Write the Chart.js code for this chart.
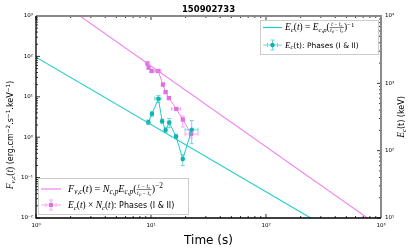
<!DOCTYPE html>
<html><head><meta charset="utf-8">
<script src="https://cdn.jsdelivr.net/npm/chart.js@4.4.1/dist/chart.umd.min.js"></script>
<style>html,body{margin:0;padding:0;background:#fff;overflow:hidden}</style>
</head><body>
<canvas id="c" width="415" height="249"></canvas>
<script>
// ---------- data ----------
const chartTitle = "150902733";
const xTicks = [1, 10, 100, 1000];
const xTickLabels = ["10⁰", "10¹", "10²", "10³"];
const leftTicks = [0.01, 0.1, 1, 10, 100, 1000];
const leftTickLabels = ["10⁻²", "10⁻¹", "10⁰", "10¹", "10²", "10³"];
const rightTicks = [10, 100, 1000, 10000];
const rightTickLabels = ["10¹", "10²", "10³", "10⁴"];

// E_c(t) phases (I & II), right axis (keV)
const ecTime   = [9.48, 10.2, 11.6, 12.5, 13.4, 14.4, 16.5, 18.9, 22.6];
const ecTimeLo = [9.3, 10.0, 10.8, 12.3, 13.2, 14.1, 16.1, 18.6, 19.8];
const ecTimeHi = [9.7, 10.4, 12.2, 12.7, 13.6, 14.7, 16.9, 19.2, 25.6];
const ecVal    = [264, 353, 591, 274, 202, 262, 162, 75, 204];
const ecLo     = [245, 325, 520, 255, 185, 220, 150, 60, 127];
const ecHi     = [285, 380, 660, 295, 220, 300, 175, 87, 281];

// E_c(t) x N_c(t) phases (I & II), left axis
const fnTime   = [9.29, 9.53, 10.1, 11.55, 12.7, 13.4, 14.3, 16.6, 18.9, 22.3];
const fnTimeLo = [9.1, 9.35, 9.9, 10.8, 12.5, 13.2, 14.1, 15.1, 18.6, 19.8];
const fnTimeHi = [9.5, 9.7, 10.3, 12.2, 12.9, 13.6, 14.5, 18.1, 19.2, 25.6];
const fnVal    = [66.7, 53, 43.5, 43.5, 20.1, 13.1, 9.3, 5.0, 2.74, 1.2];
const fnLo     = [62, 49, 40, 40, 18.5, 12, 8.5, 4.6, 1.79, 0.95];
const fnHi     = [72, 57, 47, 47, 21.8, 14.2, 10.1, 5.4, 3.35, 1.5];

// model lines (end points)
const modelTime = [1, 1000];
const ecModel   = [2450, 2.45];
const fnModel   = [5810, 0.00581];

// ---------- styles ----------
const CY_LINE = '#1fcccc', CY_MARK = '#12b3ae', CY_ERR = '#6fd8d6';
const MG_LINE = '#ee82ee', MG_MARK = '#e070e0', MG_ERR = '#f2a6f2';

const pts = (xs, ys) => xs.map((x, i) => ({x, y: ys[i]}));

// ---------- rich text ----------
const SERIF = '"Liberation Serif"', SANS = '"DejaVu Sans"';
function drawRich(ctx, parts, x, y, size, align) {
  const items = parts.map(p => {
    if (p.frac) {
      const fs = size * 0.68;
      const font = `italic ${fs}px ${SERIF}`;
      ctx.font = font;
      const w = Math.max(ctx.measureText(p.frac[0]).width, ctx.measureText(p.frac[1]).width) + 1;
      return {p, w, fs, font};
    }
    let fs = (p.sub || p.sup) ? size * 0.72 : size;
    if (p.serif) fs *= 1.18;
    const font = `${p.it ? 'italic ' : ''}${fs}px ${p.serif ? SERIF : SANS}`;
    ctx.font = font;
    return {p, w: ctx.measureText(p.t).width, fs, font};
  });
  const total = items.reduce((a, b) => a + b.w, 0);
  let cx = align === 'center' ? x - total / 2 : x;
  ctx.textBaseline = 'alphabetic';
  for (const it of items) {
    const p = it.p;
    ctx.font = it.font;
    if (p.frac) {
      ctx.textAlign = 'center';
      ctx.fillText(p.frac[0], cx + it.w / 2, y - size * 0.45);
      ctx.fillText(p.frac[1], cx + it.w / 2, y + size * 0.3);
      ctx.fillRect(cx, y - size * 0.33, it.w, 0.5);
      ctx.textAlign = 'left';
    } else {
      ctx.textAlign = 'left';
      const dy = p.sub ? size * 0.25 : p.sup ? -size * 0.42 : 0;
      ctx.fillText(p.t, cx, y + dy);
    }
    cx += it.w;
  }
  return total;
}
const M = (t, o = {}) => Object.assign({t, serif: true, it: true}, o);
const R = (t, o = {}) => Object.assign({t, serif: true, it: false}, o);
const S = (t, o = {}) => Object.assign({t, serif: false, it: false}, o);

const leftLabel = [M('F'), M('ν,c', {sub: true}), R('('), M('t'), R(')'), S(' (erg.cm'), S('−2', {sup: true}), S('.s'), S('−1', {sup: true}), S('.keV'), S('−1', {sup: true}), S(')')];
const rightLabel = [M('E'), M('c', {sub: true}), S('(t) (keV)')];
const legTop1 = [M('E'), M('c', {sub: true}), R('('), M('t'), R(')'), R(' = '), M('E'), M('c,p', {sub: true}), R('('), {frac: ['t − t₀', 'tₚ − t₀']}, R(')'), R('−1', {sup: true})];
const legTop2 = [M('E'), M('c', {sub: true}), S('(t): Phases (I & II)')];
const legBot1 = [M('F'), M('ν,c', {sub: true}), R('('), M('t'), R(')'), R(' = '), M('N'), M('c,p', {sub: true}), M('E'), M('c,p', {sub: true}), R('('), {frac: ['t − t₀', 'tₚ − t₀']}, R(')'), R('−2', {sup: true})];
const legBot2 = [M('E'), M('c', {sub: true}), R('('), M('t'), R(')'), R(' × '), M('N'), M('c', {sub: true}), R('('), M('t'), R(')'), S(': Phases (I & II)')];

// ---------- plugins ----------
const errorBars = {
  id: 'errorBars',
  beforeDatasetsDraw(chart) {
    const ctx = chart.ctx, a = chart.chartArea, xs = chart.scales.x;
    ctx.save();
    ctx.beginPath(); ctx.rect(a.left, a.top, a.right - a.left, a.bottom - a.top); ctx.clip();
    const sets = [
      {t: ecTime, tl: ecTimeLo, th: ecTimeHi, v: ecVal, lo: ecLo, hi: ecHi, ax: 'yR', c: CY_ERR},
      {t: fnTime, tl: fnTimeLo, th: fnTimeHi, v: fnVal, lo: fnLo, hi: fnHi, ax: 'yL', c: MG_ERR}
    ];
    for (const s of sets) {
      const ys = chart.scales[s.ax];
      ctx.strokeStyle = s.c; ctx.lineWidth = 1;
      for (let i = 0; i < s.t.length; i++) {
        const px = xs.getPixelForValue(s.t[i]), py = ys.getPixelForValue(s.v[i]);
        const x0 = xs.getPixelForValue(s.tl[i]), x1 = xs.getPixelForValue(s.th[i]);
        const y0 = ys.getPixelForValue(s.lo[i]), y1 = ys.getPixelForValue(s.hi[i]);
        ctx.beginPath();
        ctx.moveTo(x0, py); ctx.lineTo(x1, py);
        ctx.moveTo(px, y0); ctx.lineTo(px, y1);
        ctx.moveTo(x0, py - 2); ctx.lineTo(x0, py + 2);
        ctx.moveTo(x1, py - 2); ctx.lineTo(x1, py + 2);
        ctx.moveTo(px - 2, y0); ctx.lineTo(px + 2, y0);
        ctx.moveTo(px - 2, y1); ctx.lineTo(px + 2, y1);
        ctx.stroke();
      }
    }
    ctx.restore();
  }
};

function decadeMinors(min, max) {
  const out = [];
  for (let d = Math.floor(Math.log10(min)); d < Math.ceil(Math.log10(max)); d++) {
    for (let k = 2; k <= 9; k++) { const v = k * Math.pow(10, d); if (v > min && v < max) out.push(v); }
  }
  return out;
}

const frame = {
  id: 'frame',
  afterDraw(chart) {
    const ctx = chart.ctx, a = chart.chartArea;
    const xs = chart.scales.x, yl = chart.scales.yL, yr = chart.scales.yR;
    ctx.save();
    // ticks (inward)
    ctx.strokeStyle = '#000'; ctx.lineWidth = 0.8;
    ctx.beginPath();
    xTicks.forEach(v => { const p = xs.getPixelForValue(v); ctx.moveTo(p, a.bottom); ctx.lineTo(p, a.bottom - 4); ctx.moveTo(p, a.top); ctx.lineTo(p, a.top + 4); });
    decadeMinors(1, 1000).forEach(v => { const p = xs.getPixelForValue(v); ctx.moveTo(p, a.bottom); ctx.lineTo(p, a.bottom - 2); ctx.moveTo(p, a.top); ctx.lineTo(p, a.top + 2); });
    leftTicks.forEach(v => { const p = yl.getPixelForValue(v); ctx.moveTo(a.left, p); ctx.lineTo(a.left + 4, p); });
    decadeMinors(0.01, 1000).forEach(v => { const p = yl.getPixelForValue(v); ctx.moveTo(a.left, p); ctx.lineTo(a.left + 2, p); });
    rightTicks.forEach(v => { const p = yr.getPixelForValue(v); ctx.moveTo(a.right, p); ctx.lineTo(a.right - 4, p); });
    decadeMinors(10, 10000).forEach(v => { const p = yr.getPixelForValue(v); ctx.moveTo(a.right, p); ctx.lineTo(a.right - 2, p); });
    ctx.stroke();
    // spines
    ctx.strokeStyle = '#8a8a8a'; ctx.lineWidth = 2;
    ctx.beginPath(); ctx.moveTo(a.left, a.top); ctx.lineTo(a.right, a.top); ctx.lineTo(a.right, a.bottom); ctx.stroke();
    ctx.strokeStyle = '#000'; ctx.lineWidth = 1.3;
    ctx.beginPath(); ctx.moveTo(a.left, a.top); ctx.lineTo(a.left, a.bottom); ctx.lineTo(a.right, a.bottom); ctx.stroke();

    // title
    ctx.fillStyle = '#000';
    ctx.font = `bold 8.5px ${SANS}`; ctx.textAlign = 'center'; ctx.textBaseline = 'middle';
    ctx.fillText(chartTitle, (a.left + a.right) / 2, 9.5);
    // x label
    ctx.font = `12px ${SANS}`;
    ctx.fillText('Time (s)', (a.left + a.right) / 2, 241);
    // y labels
    ctx.save(); ctx.translate(10, 135); ctx.rotate(-Math.PI / 2);
    drawRich(ctx, leftLabel, 0, 3, 8, 'center'); ctx.restore();
    ctx.save(); ctx.translate(401, 117); ctx.rotate(-Math.PI / 2);
    drawRich(ctx, rightLabel, 0, 3, 8, 'center'); ctx.restore();

    // legends
    function box(x0, y0, x1, y1) {
      ctx.fillStyle = 'rgba(255,255,255,0.85)';
      ctx.fillRect(x0, y0, x1 - x0, y1 - y0);
      ctx.strokeStyle = '#cccccc'; ctx.lineWidth = 1;
      ctx.strokeRect(x0 + 0.5, y0 + 0.5, x1 - x0 - 1, y1 - y0 - 1);
    }
    function lineSample(x0, x1, y, c) {
      ctx.strokeStyle = c; ctx.lineWidth = 1.2;
      ctx.beginPath(); ctx.moveTo(x0, y); ctx.lineTo(x1, y); ctx.stroke();
    }
    function errSample(x0, x1, y, c, cm, rect) {
      const xc = (x0 + x1) / 2;
      ctx.strokeStyle = c; ctx.lineWidth = 1;
      ctx.beginPath();
      ctx.moveTo(x0, y); ctx.lineTo(x1, y);
      ctx.moveTo(xc - 5, y - 2); ctx.lineTo(xc - 5, y + 2);
      ctx.moveTo(xc + 5, y - 2); ctx.lineTo(xc + 5, y + 2);
      ctx.moveTo(xc, y - 5); ctx.lineTo(xc, y + 5);
      ctx.moveTo(xc - 2, y - 5); ctx.lineTo(xc + 2, y - 5);
      ctx.moveTo(xc - 2, y + 5); ctx.lineTo(xc + 2, y + 5);
      ctx.stroke();
      ctx.fillStyle = cm;
      if (rect) ctx.fillRect(xc - 2, y - 2, 4, 4);
      else { ctx.beginPath(); ctx.arc(xc, y, 2.3, 0, Math.PI * 2); ctx.fill(); }
    }
    box(260, 20, 379, 55);
    lineSample(263, 282, 27.5, CY_LINE);
    errSample(263, 282, 45, CY_ERR, CY_MARK, false);
    ctx.fillStyle = '#000';
    drawRich(ctx, legTop1, 285, 30, 8, 'left');
    ctx.fillStyle = '#000';
    drawRich(ctx, legTop2, 285, 47.5, 7.5, 'left');

    box(38, 178, 189, 215);
    lineSample(41, 61, 189, MG_LINE);
    errSample(41, 61, 205, MG_ERR, MG_MARK, true);
    ctx.fillStyle = '#000';
    drawRich(ctx, legBot1, 68, 192, 8.6, 'left');
    ctx.fillStyle = '#000';
    drawRich(ctx, legBot2, 68, 208, 8, 'left');
    ctx.restore();
  }
};

// ---------- chart ----------
const tickFont = {family: 'DejaVu Sans', size: 5.5};
new Chart(document.getElementById('c'), {
  type: 'line',
  data: {
    datasets: [
      {data: pts(modelTime, ecModel), yAxisID: 'yR', borderColor: CY_LINE, borderWidth: 1.1, pointRadius: 0, fill: false, tension: 0},
      {data: pts(ecTime, ecVal), yAxisID: 'yR', borderColor: CY_LINE, borderWidth: 1, pointRadius: 2.3, pointStyle: 'circle', pointBackgroundColor: CY_MARK, pointBorderColor: CY_MARK, pointBorderWidth: 0, fill: false, tension: 0},
      {data: pts(modelTime, fnModel), yAxisID: 'yL', borderColor: MG_LINE, borderWidth: 1.1, pointRadius: 0, fill: false, tension: 0},
      {data: pts(fnTime, fnVal), yAxisID: 'yL', borderColor: MG_LINE, borderWidth: 1, pointRadius: 3, pointStyle: 'rect', pointBackgroundColor: MG_MARK, pointBorderColor: MG_MARK, pointBorderWidth: 0, fill: false, tension: 0}
    ]
  },
  options: {
    responsive: false, animation: false, devicePixelRatio: 1,
    layout: {padding: {top: 16, left: 0, right: 0, bottom: 0}},
    plugins: {legend: {display: false}, tooltip: {enabled: false}, title: {display: false}},
    scales: {
      x: {
        type: 'logarithmic', position: 'bottom', min: 1, max: 1000,
        afterBuildTicks: s => { s.ticks = xTicks.map(v => ({value: v})); },
        afterFit: s => { s.height = 31; },
        grid: {display: false, drawTicks: false}, border: {display: false},
        ticks: {font: tickFont, color: '#000', padding: 4, autoSkip: false, maxRotation: 0, minRotation: 0,
          callback: v => xTickLabels[xTicks.indexOf(v)] ?? ''}
      },
      yL: {
        type: 'logarithmic', position: 'left', min: 0.01, max: 1000,
        afterBuildTicks: s => { s.ticks = leftTicks.map(v => ({value: v})); },
        afterFit: s => { s.width = 36; },
        grid: {display: false, drawTicks: false}, border: {display: false},
        ticks: {font: tickFont, color: '#000', padding: 3, autoSkip: false,
          callback: v => leftTickLabels[leftTicks.indexOf(v)] ?? ''}
      },
      yR: {
        type: 'logarithmic', position: 'right', min: 10, max: 10000,
        afterBuildTicks: s => { s.ticks = rightTicks.map(v => ({value: v})); },
        afterFit: s => { s.width = 34; },
        grid: {display: false, drawTicks: false}, border: {display: false},
        ticks: {font: tickFont, color: '#000', padding: 4, autoSkip: false,
          callback: v => rightTickLabels[rightTicks.indexOf(v)] ?? ''}
      }
    }
  },
  plugins: [errorBars, frame]
});
</script>
</body></html>
